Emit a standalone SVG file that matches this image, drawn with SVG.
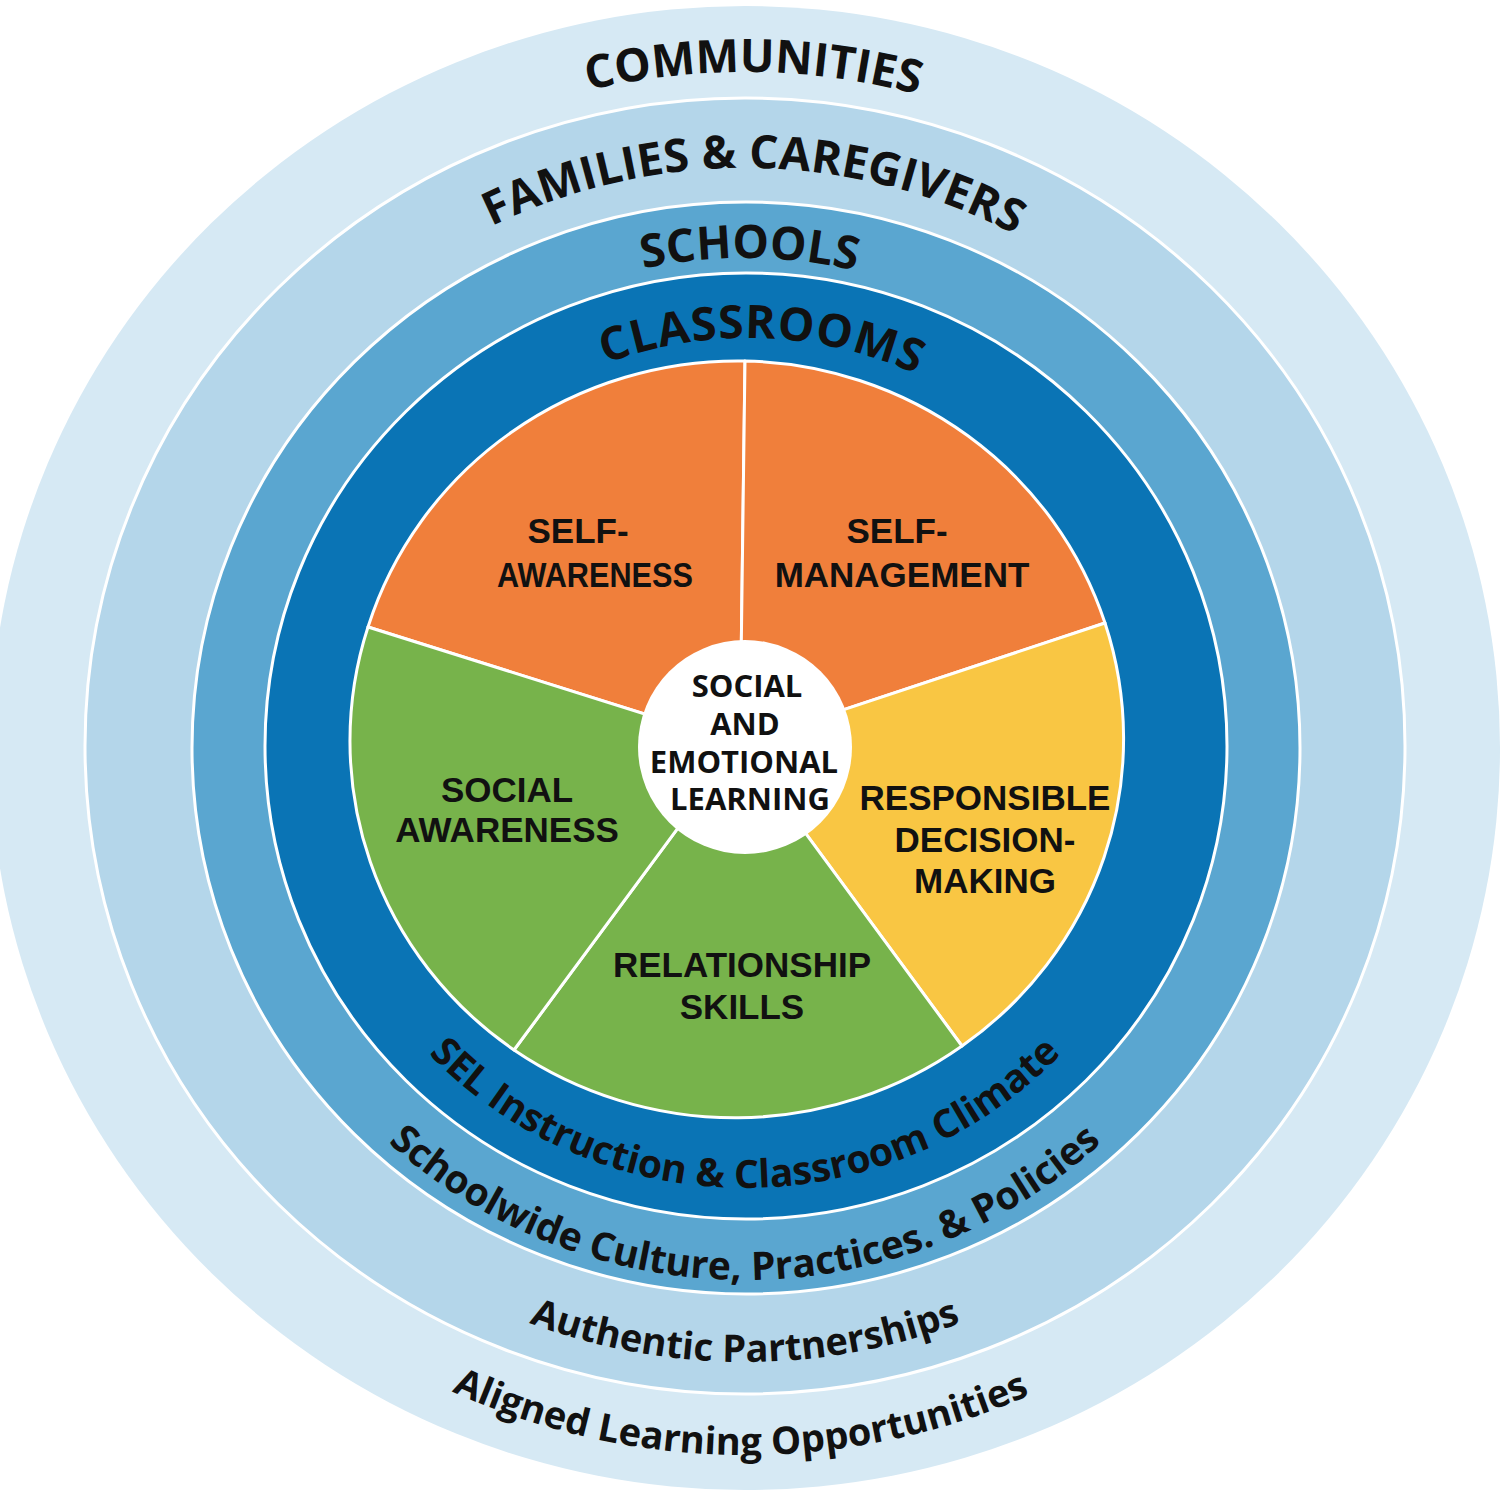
<svg xmlns="http://www.w3.org/2000/svg" xmlns:xlink="http://www.w3.org/1999/xlink" width="1505" height="1501" viewBox="0 0 1505 1501">
<style>
.ring{stroke:#ffffff;stroke-width:3}
.arc{font-family:"Open Sans","DejaVu Sans",sans-serif;font-weight:700;fill:#111111}
.lbl{font-family:"Liberation Sans",Arial,sans-serif;font-weight:700;font-size:35px;fill:#111111;text-anchor:middle}
.ctr{font-family:"Open Sans","DejaVu Sans",sans-serif;font-weight:700;font-size:31px;fill:#111111;text-anchor:middle}
.slice{stroke:#ffffff;stroke-width:3;stroke-linejoin:round}
</style>
<defs>
<path id="pCom" d="M 69 748 A 676 676 0 0 1 1421 748"/>
<path id="pFam" d="M 165 748 A 580 580 0 0 1 1325 748"/>
<path id="pSch" d="M 255 748 A 490 490 0 0 1 1235 748"/>
<path id="pCla" d="M 338 748 A 410 410 0 0 1 1158 748"/>
<path id="pSel" d="M 305 748 A 440 440 0 0 0 1185 748"/>
<path id="pSwd" d="M 213 748 A 532 532 0 0 0 1277 748"/>
<path id="pAut" d="M 131 748 A 614 614 0 0 0 1359 748"/>
<path id="pAli" d="M 38 748 A 707 707 0 0 0 1452 748"/>
</defs>
<rect width="1505" height="1501" fill="#ffffff"/>
<g id="communities">
<ellipse cx="745" cy="748" rx="755" ry="742" fill="#D6E9F4"/>
</g>
<g id="families">
<ellipse class="ring" cx="745" cy="746" rx="660" ry="648" fill="#B4D6EA"/>
</g>
<g id="schools">
<ellipse class="ring" cx="746" cy="748" rx="554" ry="546" fill="#5AA6D0"/>
</g>
<g id="classrooms">
<ellipse class="ring" cx="746" cy="746" rx="481" ry="473" fill="#0A74B5"/>
</g>
<g id="ring-labels">
<text class="arc" font-size="46"><textPath href="#pCom" xlink:href="#pCom" startOffset="50.4%" text-anchor="middle">COMMUNITIES</textPath></text>
<text class="arc" font-size="46"><textPath href="#pFam" xlink:href="#pFam" startOffset="50.5%" text-anchor="middle">FAMILIES &amp; CAREGIVERS</textPath></text>
<text class="arc" font-size="46"><textPath href="#pSch" xlink:href="#pSch" startOffset="50.3%" text-anchor="middle">SCHOOLS</textPath></text>
<text class="arc" font-size="46" letter-spacing="1"><textPath href="#pCla" xlink:href="#pCla" startOffset="51.1%" text-anchor="middle">CLASSROOMS</textPath></text>
<text class="arc" font-size="39"><textPath href="#pSel" xlink:href="#pSel" startOffset="50%" text-anchor="middle">SEL Instruction &amp; Classroom Climate</textPath></text>
<text class="arc" font-size="39"><textPath href="#pSwd" xlink:href="#pSwd" startOffset="50%" text-anchor="middle">Schoolwide Culture, Practices. &amp; Policies</textPath></text>
<text class="arc" font-size="38"><textPath href="#pAut" xlink:href="#pAut" startOffset="50%" text-anchor="middle">Authentic Partnerships</textPath></text>
<text class="arc" font-size="38"><textPath href="#pAli" xlink:href="#pAli" startOffset="49.8%" text-anchor="middle">Aligned Learning Opportunities</textPath></text>
</g>
<g id="self-awareness">
<path class="slice" fill="#F07F3B" d="M 740 744 L 368 627 A 387 378 0 0 1 745 361 Z"/>
<text class="lbl"><tspan x="578" y="543">SELF-</tspan><tspan x="595" y="587" textLength="196" lengthAdjust="spacingAndGlyphs">AWARENESS</tspan></text>
</g>
<g id="self-management">
<path class="slice" fill="#F07F3B" d="M 740 744 L 745 361 A 387 378 0 0 1 1105 623 Z"/>
<text class="lbl"><tspan x="897" y="543">SELF-</tspan><tspan x="902" y="587">MANAGEMENT</tspan></text>
</g>
<g id="responsible-decision-making">
<path class="slice" fill="#F9C643" d="M 740 744 L 1105 623 A 387 378 0 0 1 962 1046 Z"/>
<text class="lbl"><tspan x="985" y="810">RESPONSIBLE</tspan><tspan x="985" y="852">DECISION-</tspan><tspan x="985" y="893">MAKING</tspan></text>
</g>
<g id="relationship-skills">
<path class="slice" fill="#77B34B" d="M 740 744 L 962 1046 A 387 378 0 0 1 514 1050 Z"/>
<text class="lbl"><tspan x="742" y="977">RELATIONSHIP</tspan><tspan x="742" y="1019">SKILLS</tspan></text>
</g>
<g id="social-awareness">
<path class="slice" fill="#77B34B" d="M 740 744 L 514 1050 A 387 378 0 0 1 368 627 Z"/>
<text class="lbl"><tspan x="507" y="802">SOCIAL</tspan><tspan x="507" y="842">AWARENESS</tspan></text>
</g>
<g id="sel-center">
<circle cx="745" cy="747" r="107" fill="#ffffff"/>
<text class="ctr"><tspan x="747" y="697">SOCIAL</tspan><tspan x="745" y="735">AND</tspan><tspan x="744" y="773">EMOTIONAL</tspan><tspan x="750" y="810">LEARNING</tspan></text>
</g>
<g id="connectors"></g>
</svg>
